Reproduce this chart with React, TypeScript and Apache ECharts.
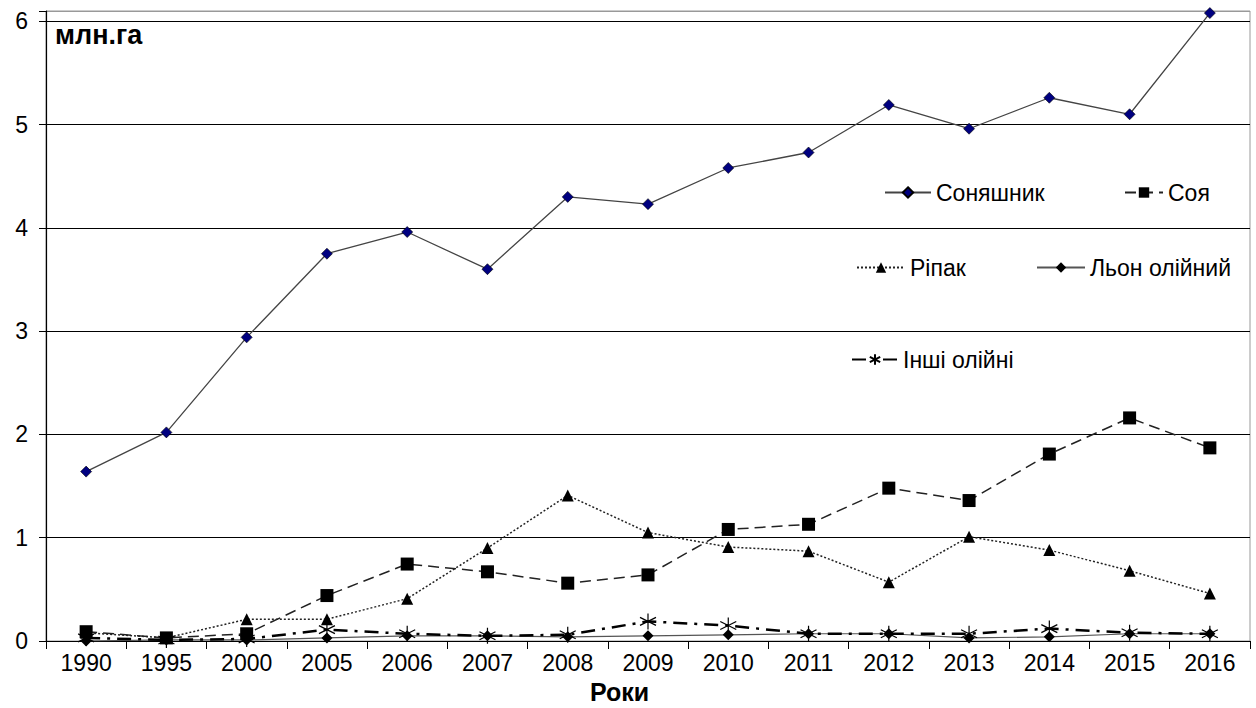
import React, { useEffect, useRef } from "react";
import * as echarts from "echarts";

const years = ["1990","1995","2000","2005","2006","2007","2008","2009","2010","2011","2012","2013","2014","2015","2016"];
const sunflower = [1.64, 2.02, 2.94, 3.75, 3.96, 3.60, 4.30, 4.23, 4.58, 4.73, 5.19, 4.96, 5.26, 5.10, 6.08];
const soy = [0.09, 0.03, 0.07, 0.44, 0.745, 0.67, 0.56, 0.64, 1.08, 1.13, 1.48, 1.36, 1.81, 2.16, 1.87];
const rapeseed = [0.08, 0.03, 0.21, 0.21, 0.41, 0.90, 1.41, 1.05, 0.91, 0.87, 0.57, 1.01, 0.88, 0.68, 0.46];
const flax = [0.0, 0.01, 0.01, 0.03, 0.05, 0.05, 0.04, 0.05, 0.06, 0.07, 0.07, 0.03, 0.04, 0.07, 0.07];
const others = [0.03, 0.01, 0.02, 0.11, 0.07, 0.05, 0.06, 0.19, 0.15, 0.07, 0.07, 0.07, 0.12, 0.08, 0.07];

const names = ["Соняшник", "Соя", "Ріпак", "Льон олійний", "Інші олійні"];
const FONT = "'Liberation Sans', Arial, sans-serif";
const ASTERISK = "path://M5,0 L5,10 M0.67,2.5 L9.33,7.5 M0.67,7.5 L9.33,2.5";

export default function App() {
  const ref = useRef<HTMLDivElement>(null);
  useEffect(() => {
    if (!ref.current) return;
    const chart = echarts.init(ref.current, null, { renderer: "svg" });
    const legendBase = (name: string, left: number, top: number, w: number) => ({
      data: [name],
      left,
      top,
      itemWidth: w,
      itemHeight: 13,
      selectedMode: false,
      textStyle: { fontFamily: FONT, fontSize: 23, color: "#000" },
      padding: 0,
    });
    chart.setOption({
      animation: false,
      backgroundColor: "#fff",
      grid: { left: 46, right: 6, top: 11, bottom: 67, show: true, borderColor: "#999", borderWidth: 1 },
      legend: [
        legendBase(names[0], 884, 181, 46),
        legendBase(names[1], 1124, 181, 38),
        legendBase(names[2], 856, 256, 48),
        legendBase(names[3], 1036, 256, 48),
        legendBase(names[4], 851, 348, 46),
      ],
      xAxis: {
        type: "category",
        data: years,
        boundaryGap: true,
        axisLine: { lineStyle: { color: "#000", width: 1.2 } },
        axisTick: { show: true, length: 8, lineStyle: { color: "#000" } },
        axisLabel: { color: "#000", fontFamily: FONT, fontSize: 23, margin: 10 },
        splitLine: { show: false },
      },
      yAxis: {
        type: "value",
        min: 0,
        max: 6.1,
        interval: 1,
        axisLine: { show: true, lineStyle: { color: "#000", width: 1.2 } },
        axisTick: { show: true, length: 7, lineStyle: { color: "#000" } },
        axisLabel: {
          color: "#000",
          fontFamily: FONT,
          fontSize: 23,
          margin: 18,
          formatter: (v: number) => (Number.isInteger(v) ? String(v) : ""),
        },
        splitLine: {
          show: true,
          lineStyle: { color: ["#000", "#000", "#000", "#000", "#000", "#000", "#000", "#999"], width: 1.2 },
        },
      },
      graphic: [
        { type: "text", left: 55, top: 21, style: { text: "млн.га", font: `bold 27px ${FONT}`, fill: "#000" } },
        { type: "text", left: 590, top: 679, style: { text: "Роки", font: `bold 25px ${FONT}`, fill: "#000" } },
      ],
      series: [
        {
          name: names[0], type: "line", data: sunflower,
          symbol: "diamond", symbolSize: 11,
          lineStyle: { color: "#444", width: 1.3 },
          itemStyle: { color: "#000080", borderColor: "#000", borderWidth: 0.6 },
        },
        {
          name: names[1], type: "line", data: soy,
          symbol: "rect", symbolSize: 13,
          lineStyle: { color: "#222", width: 1.5, type: [11, 6] },
          itemStyle: { color: "#000" },
        },
        {
          name: names[2], type: "line", data: rapeseed,
          symbol: "triangle", symbolSize: 12,
          lineStyle: { color: "#222", width: 1.5, type: [2, 2] },
          itemStyle: { color: "#000" },
        },
        {
          name: names[3], type: "line", data: flax,
          symbol: "diamond", symbolSize: 11,
          lineStyle: { color: "#555", width: 1.2 },
          itemStyle: { color: "#000" },
        },
        {
          name: names[4], type: "line", data: others,
          symbol: ASTERISK, symbolSize: 16,
          lineStyle: { color: "#000", width: 2.5, type: [14, 7, 3, 7] },
          itemStyle: { color: "#000", borderColor: "#000", borderWidth: 1.2 },
        },
      ],
    });
    return () => chart.dispose();
  }, []);
  return <div ref={ref} style={{ width: 1256, height: 708, position: "absolute", left: 0, top: 0 }} />;
}
